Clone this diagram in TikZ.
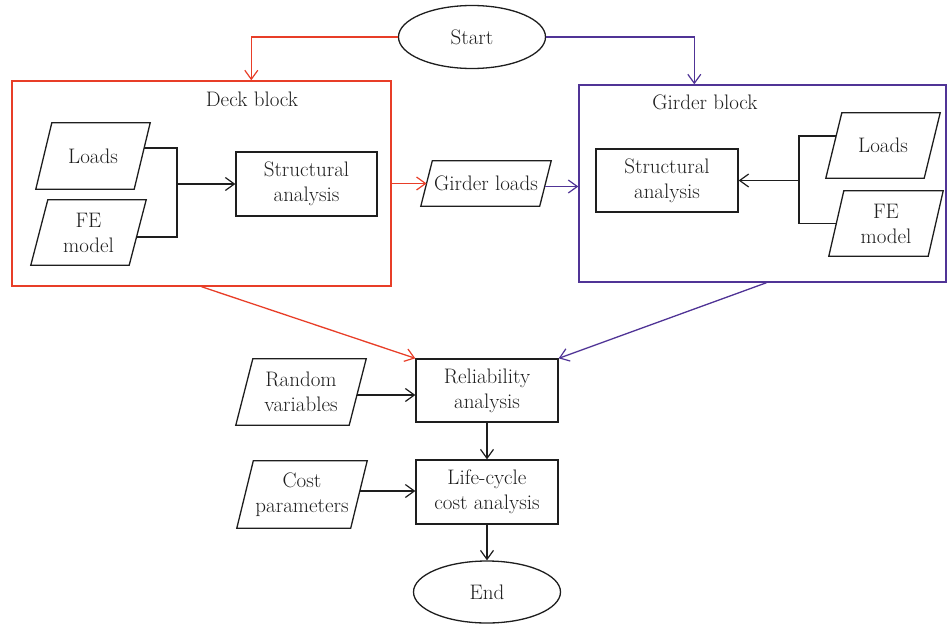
\documentclass[tikz,border=0pt]{standalone}
\usetikzlibrary{shapes.geometric,arrows.meta,calc}
\definecolor{dred}{RGB}{232,62,40}
\definecolor{gblue}{RGB}{80,52,150}
\definecolor{ink}{RGB}{30,30,30}
\newcommand{\paraoutline}[2]{%
  \draw[line] ([xshift=#2]#1.north west) -- ([xshift=#2]#1.north east)
    -- ([xshift=-#2]#1.south east) -- ([xshift=-#2]#1.south west) -- cycle;}
\begin{document}
\begin{tikzpicture}[x=1pt,y=-1pt,
  font=\fontsize{21}{25}\selectfont,
  every node/.style={text=ink},
  line/.style={draw=ink,line width=1.3pt},
  tip/.style={-{Straight Barb[length=9pt,width=13pt,line width=1.2pt]}},
  procbox/.style={draw=ink,line width=1.3pt,rectangle,minimum width=142pt,minimum height=64pt,inner sep=0pt,align=center},
  databox/.style={rectangle,minimum height=66pt,minimum width=98pt,inner sep=0pt,align=center},
  termbox/.style={draw=ink,line width=1.3pt,ellipse,minimum width=147pt,minimum height=63pt,inner sep=0pt},
  blockbox/.style={rectangle,line width=1.4pt,inner sep=0pt},
  title/.style={inner sep=0pt}
]
\useasboundingbox (0,0) rectangle (947,624);

% terminals
\node[termbox] (start) at (472,37) {Start};
\node[termbox,minimum height=62pt] (end) at (487,592) {End};

% blocks
\node[blockbox,draw=dred,minimum width=379pt,minimum height=205pt] (deck) at (201.5,183.5) {};
\node[blockbox,draw=gblue,minimum width=367pt,minimum height=197pt] (girder) at (762.5,183.5) {};
\node[title] (decktitle) at (252,99) {Deck block};
\node[title] (girdertitle) at (705,102) {Girder block};

% deck contents
\node[databox] (dl) at (93,156) {Loads};
\paraoutline{dl}{8pt}
\node[databox,minimum height=65pt] (dfe) at (88.5,232.5) {FE\\model};
\paraoutline{dfe}{8.5pt}
\node[procbox,minimum width=141pt] (dsa) at (306.5,184) {Structural\\analysis};
\coordinate (dj) at (177,184);

% girder loads
\node[databox,minimum width=118.5pt,minimum height=45pt] (gl) at (486,183.5) {Girder loads};
\paraoutline{gl}{5.75pt}

% girder contents
\node[procbox,minimum height=63pt] (gsa) at (667,180.5) {Structural\\analysis};
\node[databox,minimum height=65pt] (gld) at (883,145.5) {Loads};
\paraoutline{gld}{8pt}
\node[databox,minimum width=99pt,minimum height=65pt] (gfe) at (886,223.5) {FE\\model};
\paraoutline{gfe}{7.5pt}
\coordinate (gj) at (799,180.5);

% lower part
\node[procbox,minimum height=63pt] (rel) at (487,390.5) {Reliability\\analysis};
\node[procbox] (lc) at (487,492) {Life-cycle\\cost analysis};
\node[databox,minimum width=113pt] (rv) at (301,392) {Random\\variables};
\paraoutline{rv}{8.5pt}
\node[databox,minimum width=113.5pt,minimum height=67pt] (cp) at (302,494.5) {Cost\\parameters};
\paraoutline{cp}{8.25pt}

% start connectors
\draw[draw=dred,line width=1.3pt,tip] (start.west) -| ($(deck.north west)+(240,0)$);
\draw[draw=gblue,line width=1.3pt,tip] (start.east) -| ($(girder.north west)+(116,0)$);

% deck internal
\draw[line] ($(dl.east)+(2,-8)$) -| (dj) |- ($(dfe.east)+(-1.2,4.5)$);
\draw[line,tip] (dj) -- (dsa.west);

% girder internal
\draw[line] ($(gld.west)+(2.3,-9.5)$) -| (gj) |- (gfe.west);
\draw[line,tip] (gj) -- (gsa.east);

% between blocks
\draw[draw=dred,line width=1.3pt,tip] (deck.east) -- (gl.west);
\draw[draw=gblue,line width=1.3pt,tip] ($(gl.east)+(-0.7,3)$) -- ($(girder.west)+(0,3)$);

% to reliability
\draw[draw=dred,line width=1.3pt,tip] (deck.south) -- (rel.north west);
\draw[draw=gblue,line width=1.3pt,tip] ($(girder.south)+(4,0)$) -- (rel.north east);

% lower connectors
\coordinate (rvp) at ($(rv.east)+(-1,3)$);
\draw[line,tip] (rvp) -- (rvp -| rel.west);
\coordinate (cpp) at ($(cp.east)+(1,-3.5)$);
\draw[line,tip] (cpp) -- (cpp -| lc.west);
\draw[line,tip] (rel.south) -- (lc.north);
\draw[line,tip] (lc.south) -- (end.north);
\end{tikzpicture}
\end{document}
